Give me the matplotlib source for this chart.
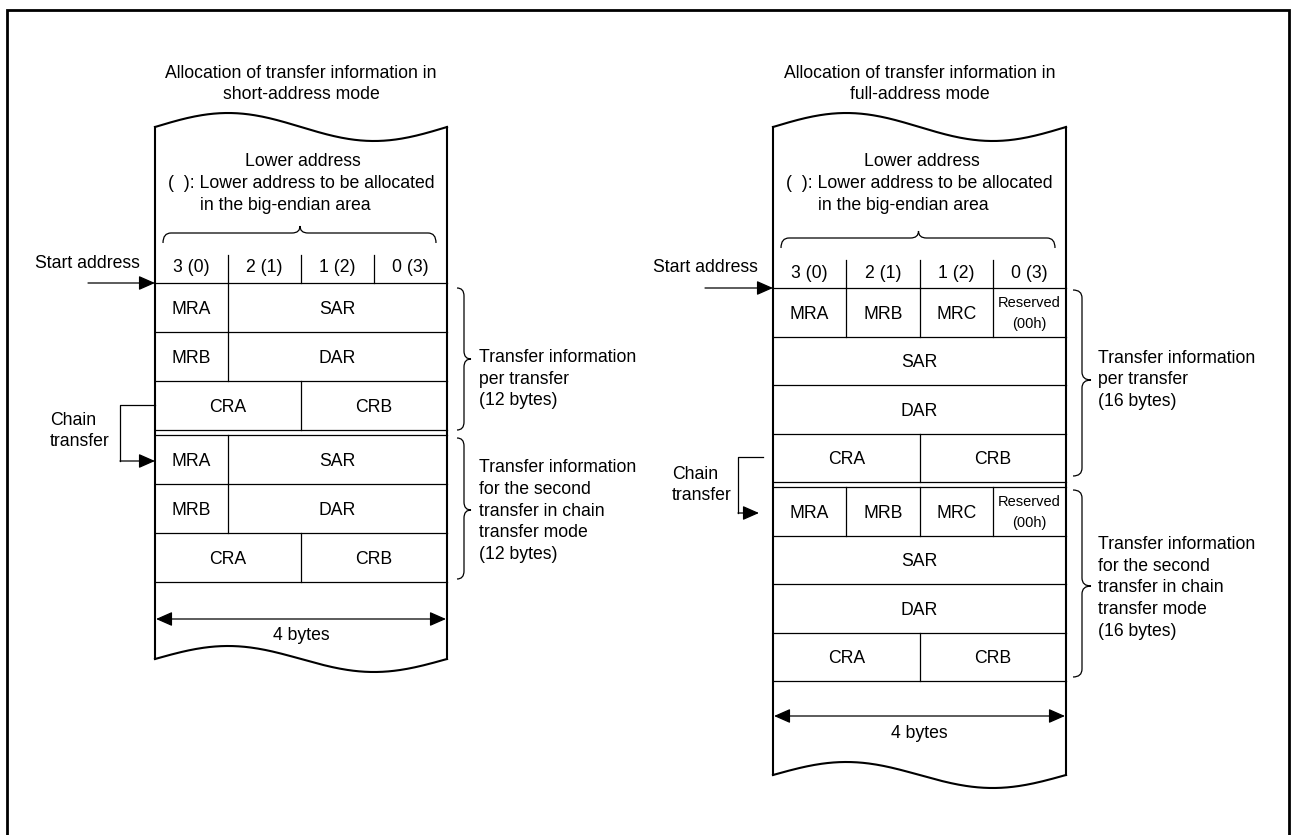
import numpy as np
import matplotlib
matplotlib.use('Agg')
import matplotlib.pyplot as plt
from matplotlib.path import Path
from matplotlib.patches import PathPatch

plt.rcParams['font.family'] = ['Liberation Sans', 'DejaVu Sans']

# diagram content
titles = ["Allocation of transfer information in\nshort-address mode",
          "Allocation of transfer information in\nfull-address mode"]
byte_cols = ["3 (0)", "2 (1)", "1 (2)", "0 (3)"]
short_labels = [["MRA", "SAR"], ["MRB", "DAR"], ["CRA", "CRB"]]
short_spans = [[1, 3], [1, 3], [2, 2]]
full_labels = [["MRA", "MRB", "MRC", "Reserved\n(00h)"], ["SAR"], ["DAR"], ["CRA", "CRB"]]
full_spans = [[1, 1, 1, 1], [4], [4], [2, 2]]
brace_texts_short = ["Transfer information\nper transfer\n(12 bytes)",
                     "Transfer information\nfor the second\ntransfer in chain\ntransfer mode\n(12 bytes)"]
brace_texts_full = ["Transfer information\nper transfer\n(16 bytes)",
                    "Transfer information\nfor the second\ntransfer in chain\ntransfer mode\n(16 bytes)"]

FS = 12.7
LS = 1.35
THIN = 0.9
THICK = 1.5

fig = plt.figure(figsize=(12.91, 8.35), dpi=100)
ax = fig.add_axes([0, 0, 1, 1])
ax.set_xlim(0, 1291)
ax.set_ylim(835, 0)
ax.axis('off')

# outer frame (bottom edge falls outside the picture)
ax.plot([7, 7, 1288.5, 1288.5], [835, 10, 10, 835], color='k', lw=2.0, solid_joinstyle='miter')


def wave(x0, w, y_end, amp):
    xs = np.linspace(x0, x0 + w, 200)
    ys = y_end - amp * np.sin(2 * np.pi * (xs - x0) / w)
    ax.plot(xs, ys, color='k', lw=THICK)


def vbrace(xe, xs, xt, y0, y1, ym):
    r = 8
    verts = [(xe, y0), (xs, y0), (xs, y0 + r),
             (xs, ym - r), (xs, ym), (xt, ym),
             (xs, ym), (xs, ym + r),
             (xs, y1 - r), (xs, y1), (xe, y1)]
    codes = [Path.MOVETO, Path.CURVE3, Path.CURVE3,
             Path.LINETO, Path.CURVE3, Path.CURVE3,
             Path.CURVE3, Path.CURVE3,
             Path.LINETO, Path.CURVE3, Path.CURVE3]
    ax.add_patch(PathPatch(Path(verts, codes), fill=False, lw=THIN, edgecolor='k'))


def hbrace(x0, x1, ye, yl, xt, yt):
    r = 8
    verts = [(x0, ye), (x0, yl), (x0 + r, yl),
             (xt - r, yl), (xt, yl), (xt, yt),
             (xt, yl), (xt + r, yl),
             (x1 - r, yl), (x1, yl), (x1, ye)]
    codes = [Path.MOVETO, Path.CURVE3, Path.CURVE3,
             Path.LINETO, Path.CURVE3, Path.CURVE3,
             Path.CURVE3, Path.CURVE3,
             Path.LINETO, Path.CURVE3, Path.CURVE3]
    ax.add_patch(PathPatch(Path(verts, codes), fill=False, lw=THIN, edgecolor='k'))


def arrow(tail, tip, style='-|>'):
    ax.annotate('', xy=tip, xytext=tail,
                arrowprops=dict(arrowstyle=style + ',head_length=0.5,head_width=0.22',
                                color='k', lw=THIN, mutation_scale=20,
                                shrinkA=0, shrinkB=0))


def draw_rows(x0, w, ytop, rh, labels, spans):
    cw = w / 4
    ax.plot([x0, x0 + w], [ytop, ytop], color='k', lw=THIN)
    y = ytop
    for lab, sp in zip(labels, spans):
        ax.plot([x0, x0 + w], [y + rh, y + rh], color='k', lw=THIN)
        c = 0
        for t, s in zip(lab, sp):
            xa = x0 + c * cw
            xb = x0 + (c + s) * cw
            if '\n' in t:
                ax.text((xa + xb) / 2, y + rh / 2 + 1, t, ha='center', va='center',
                        fontsize=10.5, linespacing=1.6)
            else:
                ax.text((xa + xb) / 2, y + rh / 2 + 2, t, ha='center', va='center', fontsize=FS)
            if c > 0:
                ax.plot([xa, xa], [y, y + rh], color='k', lw=THIN)
            c += s
        y += rh
    return y


def diagram(x0, w, title, labels, spans, texts, dy, rh, top_y, bot_y, bytes_y,
            start_x, chain, braces):
    cx = x0 + w / 2
    cw = w / 4
    ax.text(cx, 84, title, ha='center', va='center', fontsize=FS, linespacing=LS)
    # wavy top / bottom and sides
    wave(x0, w, top_y, 14)
    wave(x0, w, bot_y, 13)
    ax.plot([x0, x0], [top_y, bot_y], color='k', lw=THICK)
    ax.plot([x0 + w, x0 + w], [top_y, bot_y], color='k', lw=THICK)
    # header text
    ax.text(cx + 2, 161, "Lower address", ha='center', va='center', fontsize=FS)
    ax.text(x0 + 13, 184, "(  ): Lower address to be allocated", ha='left', va='center', fontsize=FS)
    ax.text(x0 + 45, 206, "in the big-endian area", ha='left', va='center', fontsize=FS)
    hbrace(x0 + 8, x0 + w - 11, 243 + dy, 233 + dy, cx - 1, 226 + dy)
    # byte column headers
    hy = 283 + dy
    for i, b in enumerate(byte_cols):
        ax.text(x0 + (i + 0.5) * cw, hy - 15, b, ha='center', va='center', fontsize=FS)
        if i > 0:
            ax.plot([x0 + i * cw] * 2, [hy - 28, hy], color='k', lw=THIN)
    # start address
    ax.text(x0 - 15, hy - 20, "Start address", ha='right', va='center', fontsize=FS)
    arrow((start_x, hy), (x0, hy))
    # two transfer blocks
    yend = draw_rows(x0, w, hy, rh, labels, spans)
    draw_rows(x0, w, yend + 5, rh, labels, spans)
    # 4 bytes dimension
    arrow((x0 + 1, bytes_y), (x0 + w - 1, bytes_y), style='<|-|>')
    ax.text(cx, bytes_y + 17, "4 bytes", ha='center', va='center', fontsize=FS)
    # chain transfer
    (cx0, cxl, cy0, cy1, ctip, tx, ty) = chain
    ax.plot([cx0, cxl, cxl], [cy0, cy0, cy1], color='k', lw=THIN)
    arrow((cxl, cy1), (ctip, cy1))
    ax.text(tx, ty, "Chain\ntransfer", ha='left', va='center', fontsize=FS, linespacing=LS)
    # right-hand braces
    for (xe, xs, xt, y0, y1, ym, txx, ty), t in zip(braces, texts):
        vbrace(xe, xs, xt, y0, y1, ym)
        ax.text(txx, ty, t, ha='left', va='center', fontsize=FS, linespacing=LS)


diagram(155, 292, titles[0], short_labels, short_spans, brace_texts_short,
        dy=0, rh=49, top_y=127, bot_y=659, bytes_y=619, start_x=88,
        chain=(155, 120, 405, 461, 155, 50, 431),
        braces=[(457, 464, 471, 288, 430, 359, 479, 379),
                (457, 464, 471, 438, 579, 510, 479, 511)])

diagram(773, 293, titles[1], full_labels, full_spans, brace_texts_full,
        dy=5, rh=48.5, top_y=127, bot_y=775, bytes_y=716, start_x=705,
        chain=(763, 738, 457, 513, 759, 672, 485),
        braces=[(1073, 1082, 1091, 290, 476, 380, 1098, 380),
                (1073, 1082, 1091, 490, 677, 586, 1098, 588)])

fig.savefig('out.png', dpi=100)
